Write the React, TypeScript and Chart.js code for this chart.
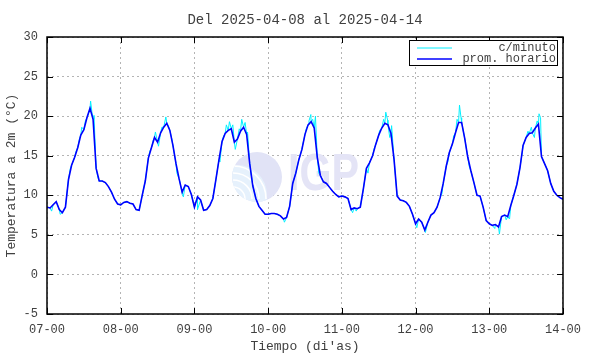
import { useEffect, useRef } from "react";
import { Chart, registerables } from "chart.js";

Chart.register(...registerables);

const TITLE = "Del 2025-04-08 al 2025-04-14";
const X_TITLE = "Tiempo (di'as)";
const Y_TITLE = "Temperatura a 2m (°C)";
const SERIES_NAMES = ["c/minuto", "prom. horario"];
const DAY_LABELS = ["07-00", "08-00", "09-00", "10-00", "11-00", "12-00", "13-00", "14-00"];
const Y_MIN = -5;
const Y_MAX = 30;
const Y_STEP = 5;
const HOURS_PER_DAY = 24;

// hourly mean temperature, hour 0 = 07-00
const HOURLY = [
  // day 07
  8.5, 8.4, 8.8, 9.2, 8.2, 7.8, 8.5, 12.0, 13.8, 14.8, 16.0, 17.6, 18.3, 19.8, 21.0, 19.6, 13.4, 11.8, 11.8, 11.6, 11.1, 10.4, 9.5, 8.9,
  // day 08
  8.8, 9.1, 9.2, 9.0, 8.9, 8.2, 8.1, 10.0, 11.8, 14.7, 16.0, 17.3, 16.7, 17.9, 18.6, 19.1, 18.2, 16.3, 14.0, 12.1, 10.4, 11.3, 11.1, 10.1,
  // day 09
  8.5, 9.8, 9.4, 8.1, 8.2, 8.7, 9.6, 12.0, 14.5, 16.8, 17.8, 18.2, 18.4, 16.7, 17.1, 18.1, 18.6, 17.7, 14.0, 11.2, 9.6, 8.6, 8.1, 7.6,
  // day 10
  7.6, 7.7, 7.7, 7.6, 7.4, 7.0, 7.2, 8.6, 11.5, 12.8, 14.5, 15.8, 17.7, 18.9, 19.3, 18.5, 14.8, 12.5, 11.7, 11.5, 11.0, 10.5, 10.1, 9.8,
  // day 11
  9.9, 9.8, 9.6, 8.2, 8.4, 8.3, 8.5, 10.8, 13.4, 14.1, 15.0, 16.4, 17.6, 18.5, 19.1, 18.9, 17.8, 14.5, 9.9, 9.4, 9.3, 9.1, 8.6, 7.6,
  // day 12
  6.4, 7.0, 6.6, 5.6, 6.6, 7.5, 7.8, 8.5, 9.7, 11.5, 13.7, 15.4, 16.5, 17.9, 19.2, 19.2, 17.2, 14.8, 13.1, 11.6, 10.0, 9.9, 8.5, 6.8,
  // day 13
  6.4, 6.2, 6.3, 6.0, 7.3, 7.5, 7.3, 8.7, 10.0, 11.4, 13.5, 16.3, 17.3, 17.8, 17.9, 18.5, 19.0, 14.9, 14.0, 13.1, 11.5, 10.5, 10.0, 9.7,
  // 14-00
  9.5,
];

// per-minute excursions away from the hourly mean: [hour, value]
const MINUTE_EXCURSIONS: [number, number][] = [
  [1.5, 8.0], [4.3, 7.6], [7.6, 13.4], [9.5, 15.6], [10.6, 17.2], [11.3, 18.6], [12.5, 19.4], [13.6, 20.4], [14.2, 21.9], [14.6, 20.6], [15.3, 20.1], [16.6, 12.2],
  [33.5, 15.6], [34.6, 17.0], [35.3, 18.0], [36.3, 16.2], [37.4, 18.6], [38.7, 19.9], [39.5, 18.8], [40.6, 17.2], [42.3, 12.8], [44.4, 9.8], [49.0, 8.2],
  [56.3, 14.2], [57.5, 17.5], [58.4, 18.9], [59.4, 19.3], [60.5, 18.9], [61.3, 15.8], [62.6, 18.4], [63.4, 19.6], [64.5, 19.2], [65.3, 18.0], [77.3, 6.6],
  [83.2, 16.3], [84.4, 18.4], [85.3, 19.4], [85.9, 20.2], [86.5, 19.6], [87.4, 20.0], [88.5, 12.8], [99.5, 7.8], [100.7, 8.0],
  [104.5, 12.8], [106.5, 15.9], [108.3, 18.2], [109.6, 19.6], [110.3, 20.5], [110.9, 19.5], [111.6, 17.3], [112.2, 18.8], [120.4, 5.9], [123.2, 5.3],
  [128.6, 10.2], [130.5, 14.2], [132.4, 17.5], [133.5, 19.6], [134.3, 21.4], [134.8, 19.8], [136.5, 16.0], [137.5, 13.6], [145.8, 5.8],
  [147.3, 5.1], [149.5, 6.9], [150.6, 7.0], [154.8, 15.6], [155.6, 16.9], [156.6, 18.1], [157.7, 18.6], [158.7, 17.3], [159.6, 19.4], [160.2, 20.3], [160.7, 19.8], [162.6, 13.5],
];

const MONO = '"Liberation Mono", "DejaVu Sans Mono", monospace';
const TEXT_COLOR = "#404040";
const CYAN = "#00f0ff";
const BLUE = "#0000ff";

const decorPlugin = {
  id: "decor",
  beforeDatasetsDraw(chart: any) {
    const ctx = chart.ctx as CanvasRenderingContext2D;
    ctx.save();
    // watermark circle
    const cx = 257, cy = 177, r = 25;
    ctx.beginPath();
    ctx.arc(cx, cy, r, 0, Math.PI * 2);
    ctx.fillStyle = "#e1e3f6";
    ctx.fill();
    ctx.save();
    ctx.beginPath();
    ctx.arc(cx, cy, r, 0, Math.PI * 2);
    ctx.clip();
    ctx.beginPath();
    ctx.arc(cx - 20, cy + 18, 30, 0, Math.PI * 2);
    ctx.fillStyle = "#e6f1fc";
    ctx.fill();
    ctx.strokeStyle = "#ffffff";
    ctx.lineWidth = 1.6;
    [12, 19, 26, 33].forEach((rr) => {
      ctx.beginPath();
      ctx.arc(cx - 24, cy + 22, rr, -Math.PI / 2, 0);
      ctx.stroke();
    });
    ctx.restore();
    // watermark letters
    ctx.font = `bold 51px "Liberation Sans", sans-serif`;
    const w = ctx.measureText("IGP").width;
    ctx.translate(288, 190);
    ctx.scale(71 / w, 1);
    ctx.fillStyle = "#e4e4f6";
    ctx.textBaseline = "alphabetic";
    ctx.fillText("IGP", 0, 0);
    ctx.restore();
  },
  afterDraw(chart: any) {
    const ctx = chart.ctx as CanvasRenderingContext2D;
    const { left, right, top, bottom } = chart.chartArea;
    const xs = chart.scales.x;
    const ys = chart.scales.y;
    ctx.save();
    // inner tick marks
    ctx.strokeStyle = "#000";
    ctx.lineWidth = 1;
    const tl = 6;
    xs.ticks.forEach((t: any) => {
      const px = Math.round(xs.getPixelForValue(t.value)) + 0.5;
      ctx.beginPath();
      ctx.moveTo(px, top);
      ctx.lineTo(px, top + tl);
      ctx.moveTo(px, bottom);
      ctx.lineTo(px, bottom - tl);
      ctx.stroke();
    });
    ys.ticks.forEach((t: any) => {
      const py = Math.round(ys.getPixelForValue(t.value)) + 0.5;
      ctx.beginPath();
      ctx.moveTo(left, py);
      ctx.lineTo(left + tl, py);
      ctx.moveTo(right, py);
      ctx.lineTo(right - tl, py);
      ctx.stroke();
    });
    // frame
    ctx.lineWidth = 1.5;
    ctx.strokeRect(left, top, right - left, bottom - top);

    // legend
    const bx = 409.5, by = 40.5, bw = 148, bh = 25;
    ctx.fillStyle = "#fff";
    ctx.fillRect(bx, by, bw, bh);
    ctx.lineWidth = 1;
    ctx.strokeStyle = "#000";
    ctx.strokeRect(bx, by, bw, bh);
    const rows = [
      { y: 48, color: CYAN, width: 1 },
      { y: 59, color: BLUE, width: 1.5 },
    ];
    ctx.font = `12px ${MONO}`;
    ctx.textAlign = "right";
    ctx.textBaseline = "middle";
    rows.forEach((row, i) => {
      ctx.strokeStyle = row.color;
      ctx.lineWidth = row.width;
      ctx.beginPath();
      ctx.moveTo(417, row.y);
      ctx.lineTo(452, row.y);
      ctx.stroke();
      ctx.fillStyle = TEXT_COLOR;
      ctx.fillText(SERIES_NAMES[i], 556, row.y);
    });

    // titles
    ctx.fillStyle = TEXT_COLOR;
    ctx.textAlign = "center";
    ctx.textBaseline = "middle";
    ctx.font = `14px ${MONO}`;
    ctx.fillText(TITLE, (left + right) / 2, 20);
    ctx.font = `13px ${MONO}`;
    ctx.fillText(X_TITLE, (left + right) / 2, 347);
    ctx.save();
    ctx.translate(12, (top + bottom) / 2);
    ctx.rotate(-Math.PI / 2);
    ctx.fillText(Y_TITLE, 0, 0);
    ctx.restore();
    ctx.restore();
  },
};

export default function App() {
  const canvasRef = useRef<HTMLCanvasElement | null>(null);

  useEffect(() => {
    document.body.style.margin = "0";
    const canvas = canvasRef.current;
    if (!canvas) return;

    const hourlyPts = HOURLY.map((v, i) => ({ x: i, y: v }));
    const minutePts = [...hourlyPts, ...MINUTE_EXCURSIONS.map(([x, y]) => ({ x, y }))].sort((a, b) => a.x - b.x);
    const xMax = (DAY_LABELS.length - 1) * HOURS_PER_DAY;

    const chart = new Chart(canvas, {
      type: "line",
      data: {
        datasets: [
          {
            label: SERIES_NAMES[0],
            data: minutePts,
            borderColor: CYAN,
            borderWidth: 1,
            pointRadius: 0,
            tension: 0,
            order: 2,
          },
          {
            label: SERIES_NAMES[1],
            data: hourlyPts,
            borderColor: BLUE,
            borderWidth: 1.6,
            pointRadius: 0,
            tension: 0,
            order: 1,
          },
        ],
      },
      options: {
        animation: false,
        responsive: false,
        devicePixelRatio: 1,
        parsing: false,
        layout: { padding: { top: 37, right: 26, left: 0, bottom: 0 } },
        plugins: {
          legend: { display: false },
          tooltip: { enabled: false },
          title: { display: false },
        },
        scales: {
          x: {
            type: "linear",
            min: 0,
            max: xMax,
            afterFit: (s: any) => {
              s.height = 40;
            },
            ticks: {
              stepSize: HOURS_PER_DAY,
              autoSkip: false,
              maxRotation: 0,
              padding: 9,
              color: TEXT_COLOR,
              font: { family: MONO, size: 12 },
              callback: (v: any) => DAY_LABELS[Math.round(Number(v) / HOURS_PER_DAY)] ?? "",
            },
            grid: { color: "#b4b4b4", drawTicks: false, lineWidth: 1 },
            border: { display: false, dash: [2, 3] },
          },
          y: {
            min: Y_MIN,
            max: Y_MAX,
            afterFit: (s: any) => {
              s.width = 47;
            },
            ticks: {
              stepSize: Y_STEP,
              padding: 9,
              color: TEXT_COLOR,
              font: { family: MONO, size: 12 },
            },
            grid: { color: "#b4b4b4", drawTicks: false, lineWidth: 1 },
            border: { display: false, dash: [2, 3] },
          },
        },
      },
      plugins: [decorPlugin],
    });

    return () => chart.destroy();
  }, []);

  return (
    <div style={{ position: "absolute", left: 0, top: 0, width: 590, height: 354, background: "#fff" }}>
      <canvas ref={canvasRef} width={590} height={354} style={{ width: 590, height: 354 }} />
    </div>
  );
}
